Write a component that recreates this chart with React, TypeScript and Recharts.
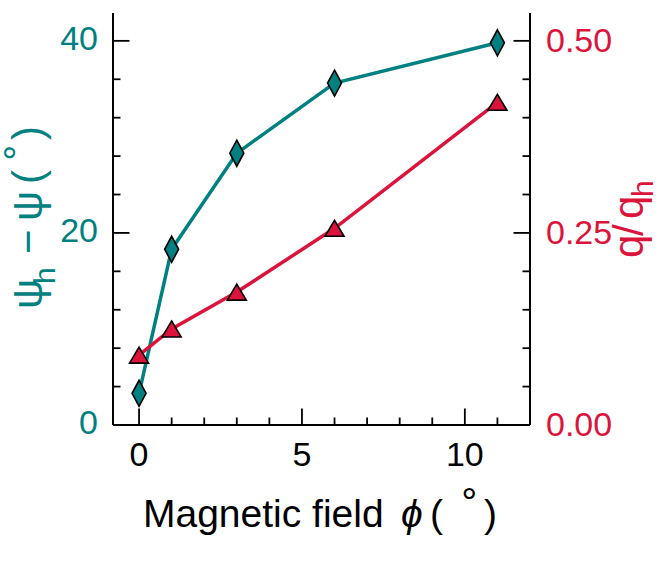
import { ComposedChart, Line, XAxis, YAxis } from "recharts";

const fieldAngle = [0, 1, 3, 6, 11];
const psiDiff = [3.3, 18.3, 28.3, 35.6, 39.8];
const qRatio = [0.091, 0.125, 0.173, 0.256, 0.42];

const xTicks = [0, 1, 2, 3, 4, 5, 6, 7, 8, 9, 10, 11];
const leftTicks = [0, 4, 8, 12, 16, 20, 24, 28, 32, 36, 40];
const rightTicks = [0, 0.05, 0.1, 0.15, 0.2, 0.25, 0.3, 0.35, 0.4, 0.45, 0.5];

const TEAL = "#008080";
const RED = "#DC143C";
const FONT = "'Liberation Sans', Arial, sans-serif";
const TICK_FS = 34;
const MAJOR = 16.5;
const MINOR = 7.5;

const chartData = fieldAngle.map((x, i) => ({ x, psi: psiDiff[i], q: qRatio[i] }));

const BottomTick = ({ x, y, payload }: any) => {
  const major = payload.value % 5 === 0;
  return (
    <g>
      <line x1={x} x2={x} y1={y} y2={y - (major ? MAJOR : MINOR)} stroke="#000" strokeWidth={1.8} />
      {major && (
        <text x={x} y={y + 40.5} textAnchor="middle" fontSize={TICK_FS} fontFamily={FONT} fill="#000">
          {payload.value}
        </text>
      )}
    </g>
  );
};

const TopTick = ({ x, y, payload }: any) => {
  const major = payload.value % 5 === 0;
  return <line x1={x} x2={x} y1={y} y2={y + (major ? MAJOR : MINOR)} stroke="#000" strokeWidth={1.8} />;
};

const LeftTick = ({ x, y, payload }: any) => {
  const major = payload.value % 20 === 0;
  return (
    <g>
      <line x1={x} x2={x + (major ? MAJOR : MINOR)} y1={y} y2={y} stroke="#000" strokeWidth={1.8} />
      {major && (
        <text x={x - 15} y={y + 9} textAnchor="end" fontSize={TICK_FS} fontFamily={FONT} fill={TEAL}>
          {payload.value}
        </text>
      )}
    </g>
  );
};

const RightTick = ({ x, y, payload }: any) => {
  const v = payload.value;
  const major = Math.abs(v * 4 - Math.round(v * 4)) < 1e-6;
  return (
    <g>
      <line x1={x} x2={x - (major ? MAJOR : MINOR)} y1={y} y2={y} stroke="#000" strokeWidth={1.8} />
      {major && (
        <text x={x + 16} y={y + 11} textAnchor="start" fontSize={TICK_FS} fontFamily={FONT} fill={RED}>
          {v.toFixed(2)}
        </text>
      )}
    </g>
  );
};

const Diamond = ({ cx, cy }: any) => (
  <path
    d={`M${cx},${cy - 13} L${cx + 7},${cy} L${cx},${cy + 13} L${cx - 7},${cy} Z`}
    fill={TEAL}
    stroke="#000"
    strokeWidth={1.6}
  />
);

const Triangle = ({ cx, cy }: any) => (
  <path
    d={`M${cx},${cy - 8} L${cx + 9.5},${cy + 8} L${cx - 9.5},${cy + 8} Z`}
    fill={RED}
    stroke="#000"
    strokeWidth={1.6}
    strokeLinejoin="miter"
  />
);

const App = () => {
  return (
    <div style={{ position: "absolute", left: 0, top: 0, width: 660, height: 561, background: "#fff" }}>
      <ComposedChart width={660} height={561} data={chartData} margin={{ top: 13, right: 0, bottom: 0, left: 0 }}>
        <XAxis
          dataKey="x"
          type="number"
          domain={[-0.8, 12]}
          ticks={xTicks}
          interval={0}
          tick={<BottomTick />}
          tickLine={false}
          tickSize={0}
          tickMargin={0}
          height={136}
          axisLine={{ stroke: "#000", strokeWidth: 2 }}
          allowDataOverflow
        />
        <XAxis
          xAxisId="top"
          orientation="top"
          dataKey="x"
          type="number"
          domain={[-0.8, 12]}
          ticks={xTicks}
          interval={0}
          tick={<TopTick />}
          tickLine={false}
          tickSize={0}
          tickMargin={0}
          height={0}
          axisLine={{ stroke: "#000", strokeWidth: 2 }}
          allowDataOverflow
        />
        <YAxis
          yAxisId="left"
          type="number"
          domain={[0, 42.9]}
          ticks={leftTicks}
          interval={0}
          tick={<LeftTick />}
          tickLine={false}
          tickSize={0}
          tickMargin={0}
          width={113}
          axisLine={{ stroke: "#000", strokeWidth: 2 }}
          allowDataOverflow
        />
        <YAxis
          yAxisId="right"
          orientation="right"
          type="number"
          domain={[0, 0.53625]}
          ticks={rightTicks}
          interval={0}
          tick={<RightTick />}
          tickLine={false}
          tickSize={0}
          tickMargin={0}
          width={130}
          axisLine={{ stroke: "#000", strokeWidth: 2 }}
          allowDataOverflow
        />
        <Line
          yAxisId="left"
          dataKey="psi"
          type="linear"
          stroke={TEAL}
          strokeWidth={3.5}
          dot={<Diamond />}
          activeDot={false}
          isAnimationActive={false}
        />
        <Line
          yAxisId="right"
          dataKey="q"
          type="linear"
          stroke={RED}
          strokeWidth={3.5}
          dot={<Triangle />}
          activeDot={false}
          isAnimationActive={false}
        />
      </ComposedChart>
      <svg
        width={660}
        height={561}
        style={{ position: "absolute", left: 0, top: 0, pointerEvents: "none" }}
        fontFamily={FONT}
      >
        <text y={527} fontSize={39} fill="#000">
          <tspan x={143}>Magnetic field</tspan>
          <tspan x={401} fontStyle="italic">ϕ</tspan>
          <tspan x={430}>(</tspan>
        </text>
        <text x={458} y={503.5} fontSize={36} fill="#000">∘</text>
        <text x={484} y={527} fontSize={39} fill="#000">)</text>
        <g transform="translate(41.5,219) rotate(-90)">
          <text fontSize={42} fill={TEAL}>
            <tspan x={-90} y={0}>ψ</tspan>
            <tspan x={-65} y={13.5} fontSize={30}>h</tspan>
            <tspan x={-35} y={0}>−</tspan>
            <tspan x={-2} y={0}>ψ</tspan>
            <tspan x={35} y={0}>(</tspan>
            <tspan x={79} y={0}>)</tspan>
          </text>
          <text x={55} y={-22} fontSize={36} fill={TEAL}>∘</text>
        </g>
        <g transform="translate(643,219) rotate(-90)">
          <text fontSize={42} fill={RED}>
            <tspan x={-39} y={0}>q</tspan>
            <tspan x={-17} y={0}>/</tspan>
            <tspan x={0} y={0}>q</tspan>
            <tspan x={22} y={10} fontSize={30}>h</tspan>
          </text>
        </g>
      </svg>
    </div>
  );
};

export default App;
